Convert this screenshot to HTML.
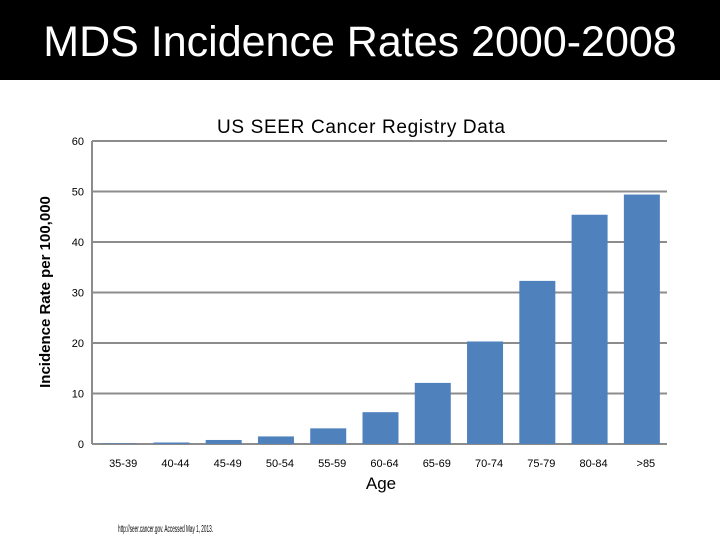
<!DOCTYPE html>
<html><head><meta charset="utf-8"><style>
body{margin:0;width:720px;height:540px;background:#fff;overflow:hidden;font-family:"Liberation Sans",sans-serif}
#hdr{position:absolute;left:0;top:0;width:720px;height:80px;background:#000;color:#fff;font-size:43px;text-align:center;line-height:84px}
</style></head><body>
<div id="hdr">MDS Incidence Rates 2000-2008</div>
<svg id="c" width="720" height="540" style="position:absolute;left:0;top:0">
<text x="361" y="133" font-size="19" textLength="288" text-anchor="middle" fill="#000">US SEER Cancer Registry Data</text>
<text x="0" y="0" transform="translate(50,292) rotate(-90)" font-size="15" font-weight="bold" text-anchor="middle">Incidence Rate per 100,000</text>
<text x="381" y="489" font-size="17" text-anchor="middle">Age</text>
<text x="118" y="532" font-size="10" textLength="95" lengthAdjust="spacingAndGlyphs">http://seer.cancer.gov. Accessed May 1, 2013.</text>
</svg>
<script>
const categories=["35-39","40-44","45-49","50-54","55-59","60-64","65-69","70-74","75-79","80-84",">85"];
const values=[0.1,0.3,0.8,1.5,3.1,6.3,12.1,20.3,32.3,45.4,49.4];
const yTicks=[0,10,20,30,40,50,60];
const svg=document.getElementById('c');const NS='http://www.w3.org/2000/svg';
const x0=92,x1=667,yb=444,yt=141,ymax=60;
const y=v=>yb-(v/ymax)*(yb-yt);
const bw=(x1-x0)/categories.length;
function mk(t,a){const e=document.createElementNS(NS,t);for(const k in a)e.setAttribute(k,a[k]);svg.appendChild(e);return e;}
yTicks.forEach(t=>{
 const l=mk('line',{x1:x0,x2:x1,y1:y(t),y2:y(t),stroke:'#8c8c8c','stroke-width':2});
 
 
 const tx=mk('text',{x:x0-8,y:y(t)+4,'font-size':11,'text-anchor':'end'});tx.textContent=t;
 
 
});
const ax=mk('line',{x1:x0,x2:x0,y1:yt,y2:yb,stroke:'#8c8c8c','stroke-width':2});


categories.forEach((c,i)=>{
 const cx=x0+bw*(i+0.5)+1;
 const r=mk('rect',{x:cx-18,y:y(values[i]),width:36,height:yb-y(values[i]),fill:'#4f81bd'});
 
 
 const tx=mk('text',{x:cx+4,y:467,'font-size':11,'text-anchor':'middle'});tx.textContent=c;
 
 
});
</script>
</body></html>
